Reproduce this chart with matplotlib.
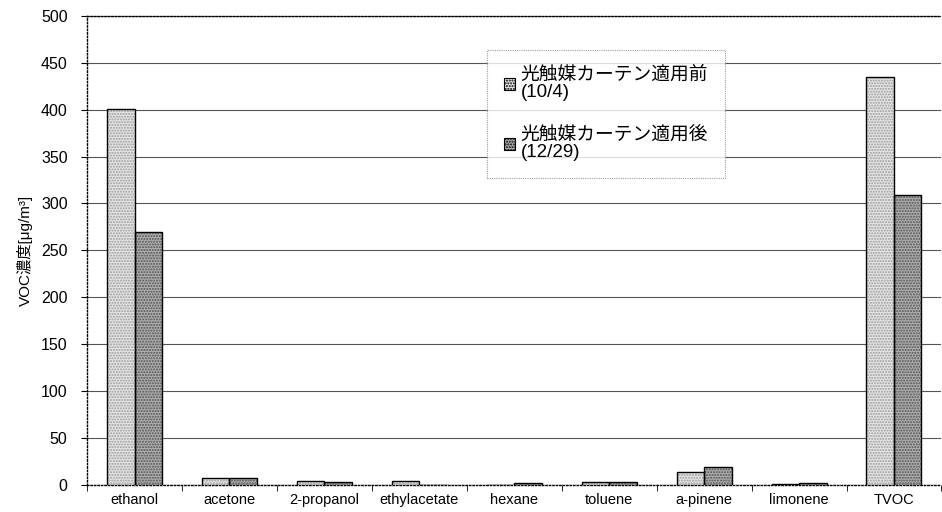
import numpy as np
import matplotlib
matplotlib.use("Agg")
import matplotlib.pyplot as plt
from matplotlib.patches import Patch

plt.rcParams["font.family"] = ["Liberation Sans", "Noto Sans CJK JP"]

categories = ["ethanol", "acetone", "2-propanol", "ethylacetate", "hexane",
              "toluene", "a-pinene", "limonene", "TVOC"]
before = [401, 7, 4, 4, 0, 3, 14, 1, 435]
after = [270, 7, 3, 0, 2, 3, 19, 2, 309]
label_before = "光触媒カーテン適用前\n(10/4)"
label_after = "光触媒カーテン適用後\n(12/29)"
yticks = list(range(0, 501, 50))

fig = plt.figure(figsize=(9.42, 5.12), dpi=100)
ax = fig.add_axes([0.0924, 0.053, 0.907, 0.916])

x = np.arange(len(categories))
w = 0.29
face_b, hatch_b = "#e6e6e6", "#9a9a9a"
face_a, hatch_a = "#b0b0b0", "#505050"

ax.bar(x - w / 2, before, w, color=face_b, hatch="......", edgecolor=hatch_b, linewidth=0, zorder=3)
ax.bar(x + w / 2, after, w, color=face_a, hatch="......", edgecolor=hatch_a, linewidth=0, zorder=3)
ax.bar(x - w / 2, before, w, fill=False, edgecolor="black", linewidth=1.0, zorder=4)
ax.bar(x + w / 2, after, w, fill=False, edgecolor="black", linewidth=1.0, zorder=4)

ax.set_xlim(-0.5, len(categories) - 0.5)
ax.set_ylim(0, 500)
ax.set_yticks(yticks)
ax.yaxis.grid(True, color="#555555", linewidth=0.8, zorder=0)
ax.set_axisbelow(True)

ax.set_xticks(x)
ax.set_xticklabels(categories, fontsize=10.5)
ax.set_xticks(np.arange(-0.5, len(categories)), minor=True)
ax.tick_params(axis="x", which="major", length=0, pad=6)
ax.tick_params(axis="x", which="minor", length=4, direction="out")
ax.tick_params(axis="y", labelsize=11.5, length=4, direction="out", pad=10)

for s in ["left", "bottom", "top"]:
    ax.spines[s].set_linestyle((0, (1, 1.5)))
    ax.spines[s].set_linewidth(1.0)
ax.spines["right"].set_visible(False)

ax.set_ylabel("VOC濃度[μg/m³]", fontsize=11, labelpad=6)

handles = [Patch(facecolor=face_b, edgecolor="black", hatch="......", linewidth=0.8),
           Patch(facecolor=face_a, edgecolor="black", hatch="......", linewidth=0.8)]
leg = ax.legend(handles, [label_before, label_after], loc="upper left",
                bbox_to_anchor=(0.468, 0.928), fontsize=13.5, frameon=True,
                fancybox=False, edgecolor="#888888", handlelength=0.6,
                handleheight=0.6, handletextpad=0.3, labelspacing=1.4,
                borderpad=0.9, borderaxespad=0)
leg.get_frame().set_linewidth(0.8)
leg.get_frame().set_linestyle((0, (1, 1)))
for t in leg.get_texts():
    t.set_linespacing(1.0)

fig.savefig("out.png", dpi=100)
